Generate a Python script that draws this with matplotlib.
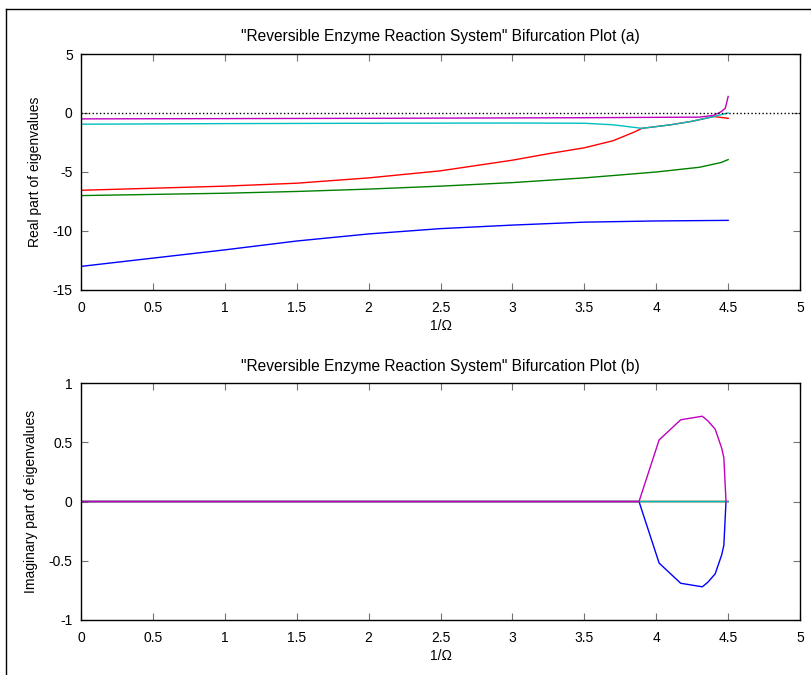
import numpy as np
import matplotlib.pyplot as plt
from matplotlib.lines import Line2D

plt.rcParams['font.family'] = ['Liberation Sans', 'DejaVu Sans']
plt.rcParams['axes.unicode_minus'] = False

# real parts (top plot)
x_blue = [0, 0.5, 1, 1.5, 2, 2.5, 3, 3.5, 4, 4.5]
re_blue = [-13.0, -12.3, -11.6, -10.85, -10.25, -9.8, -9.5, -9.25, -9.15, -9.1]

x_green = [0, 0.5, 1, 1.5, 2, 2.5, 3, 3.5, 4, 4.3, 4.45, 4.5]
re_green = [-7.0, -6.9, -6.8, -6.65, -6.45, -6.2, -5.9, -5.5, -5.0, -4.6, -4.2, -3.95]

x_red = [0, 1, 1.5, 2, 2.25, 2.5, 3, 3.25, 3.5, 3.7, 3.85, 3.9, 4.1, 4.25, 4.4, 4.5]
re_red = [-6.55, -6.2, -5.95, -5.5, -5.2, -4.9, -4.0, -3.45, -2.95, -2.35, -1.6, -1.3,
          -1.0, -0.7, -0.3, -0.45]

x_cyan = [0, 1, 2, 3, 3.5, 3.7, 3.9, 4.1, 4.25, 4.4, 4.5]
re_cyan = [-0.95, -0.9, -0.87, -0.85, -0.87, -1.0, -1.3, -1.0, -0.7, -0.3, 0.0]

x_mag = [0, 2, 3.5, 4.3, 4.4, 4.45, 4.48, 4.5]
re_mag = [-0.5, -0.45, -0.4, -0.35, -0.2, 0.1, 0.4, 1.4]

# imaginary parts (bottom plot)
x_im = [0, 3.88, 4.02, 4.17, 4.32, 4.36, 4.41, 4.455, 4.47, 4.485]
im_mag = [0, 0, 0.52, 0.69, 0.72, 0.68, 0.61, 0.45, 0.37, 0]
im_blue = [-v for v in im_mag]
x_zero = [0, 4.5]
im_zero = [0, 0]

c_b = (0, 0, 1)
c_g = (0, 0.5, 0)
c_r = (1, 0, 0)
c_c = (0, 0.75, 0.75)
c_m = (0.75, 0, 0.75)

fig = plt.figure(figsize=(8.12, 6.75), dpi=100)
ax1 = fig.add_axes([0.0998, 0.5704, 0.8855, 0.3496])
ax2 = fig.add_axes([0.0998, 0.0815, 0.8855, 0.351])

ax1.plot(x_blue, re_blue, color=c_b, lw=1)
ax1.plot(x_green, re_green, color=c_g, lw=1)
ax1.plot(x_red, re_red, color=c_r, lw=1)
ax1.plot(x_cyan, re_cyan, color=c_c, lw=1)
ax1.plot(x_mag, re_mag, color=c_m, lw=1)
ax1.plot([0, 5], [0, 0], 'k:', lw=1)
ax1.set_xlim(0, 5)
ax1.set_ylim(-15, 5)
ax1.set_yticks([-15, -10, -5, 0, 5])
ax1.set_yticklabels(['-15', '-10', '-5', '0', '5'])
ax1.set_title('"Reversible Enzyme Reaction System" Bifurcation Plot (a)', fontsize=11.2, pad=9)
ax1.set_ylabel('Real part of eigenvalues', fontsize=10)
ax1.set_xlabel('1/\u03a9', fontsize=10, labelpad=2.5)
ax1.yaxis.set_label_coords(-0.054, 0.5)

ax2.plot(x_im, im_blue, color=c_b, lw=1, snap=False)
ax2.plot(x_zero, im_zero, color=c_g, lw=1, snap=False)
ax2.plot(x_zero, im_zero, color=c_r, lw=1, snap=False)
ax2.plot(x_zero, im_zero, color=c_c, lw=1, snap=False)
ax2.plot(x_im, im_mag, color=c_m, lw=1, snap=False)
ax2.set_xlim(0, 5)
ax2.set_ylim(-1, 1)
ax2.set_yticks([-1, -0.5, 0, 0.5, 1])
ax2.set_yticklabels(['-1', '-0.5', '0', '0.5', '1'])
ax2.set_title('"Reversible Enzyme Reaction System" Bifurcation Plot (b)', fontsize=11.2, pad=9)
ax2.set_ylabel('Imaginary part of eigenvalues', fontsize=10)
ax2.set_xlabel('1/\u03a9', fontsize=10, labelpad=2.5)
ax2.yaxis.set_label_coords(-0.060, 0.5)

for ax in (ax1, ax2):
    ax.set_xticks(np.arange(0, 5.01, 0.5))
    ax.set_xticklabels(['0', '0.5', '1', '1.5', '2', '2.5', '3', '3.5', '4', '4.5', '5'])
    ax.tick_params(direction='in', top=True, right=True, length=5, color='0.45',
                   labelsize=10, labelcolor='black')
    ax.tick_params(axis='x', pad=8)
    ax.tick_params(axis='y', pad=6)
    for s in ax.spines.values():
        s.set_linewidth(1)

fig.add_artist(Line2D([6 / 812, 1], [1 - 9 / 675, 1 - 9 / 675], color='black', lw=1,
                      transform=fig.transFigure))
fig.add_artist(Line2D([6 / 812, 6 / 812], [0, 1 - 9 / 675], color='black', lw=1,
                      transform=fig.transFigure))

fig.savefig('out.png', dpi=100)
